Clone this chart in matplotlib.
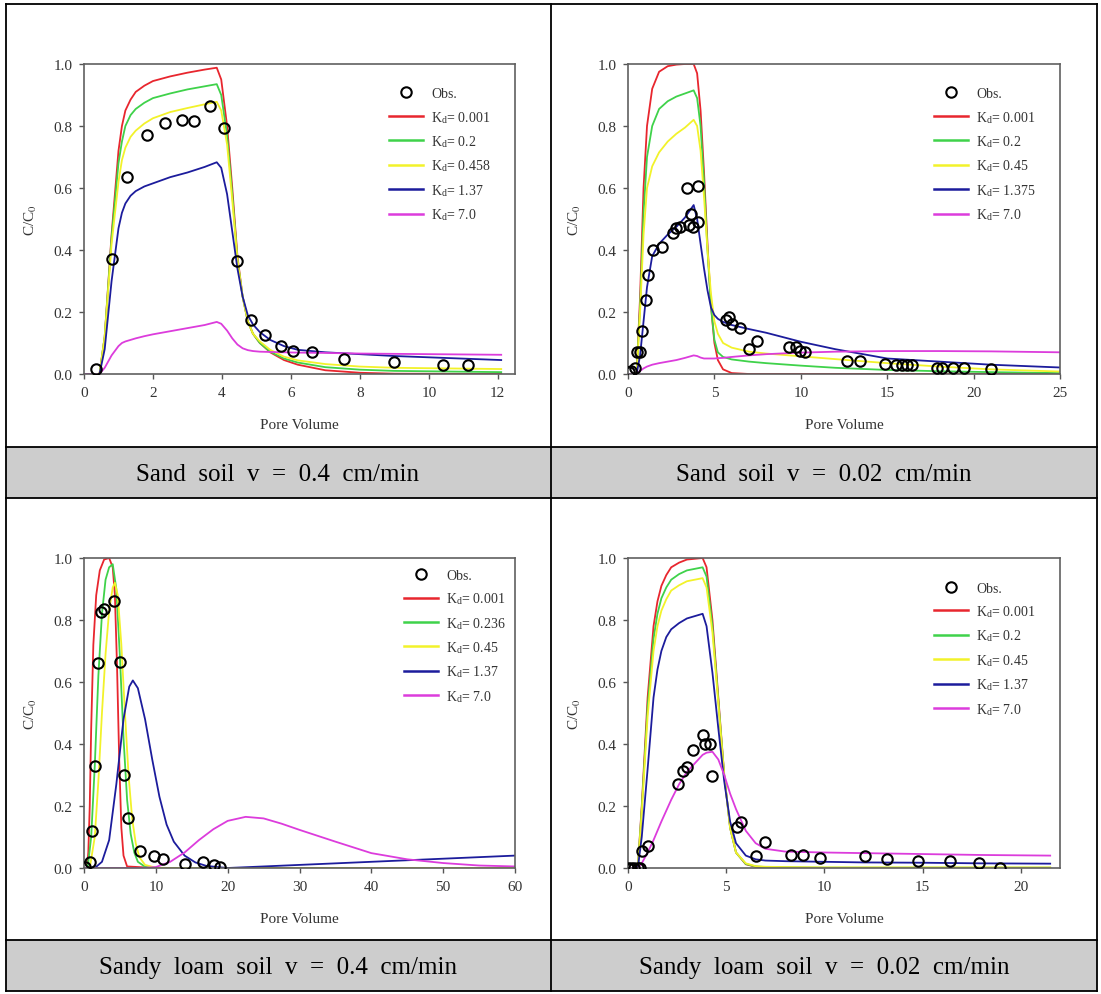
import numpy as np
import matplotlib
matplotlib.use("Agg")
import matplotlib.pyplot as plt
from matplotlib.lines import Line2D
from matplotlib.patches import Rectangle

plt.rcParams['font.family'] = ['Liberation Serif', 'DejaVu Serif']
plt.rcParams['mathtext.fontset'] = 'stix'

# ---------------- data ----------------
# Panel 1: Sand soil v = 0.4 cm/min
p1_x = [0, 0.45, 0.6, 0.8, 1.0, 1.1, 1.2, 1.35, 1.5, 1.75, 2.0, 2.5, 3.0, 3.5, 3.85, 3.98, 4.15,
        4.3, 4.45, 4.6, 4.75, 4.9, 5.1, 5.4, 5.8, 6.2, 7.0, 8.0, 9.0, 12.1]
p1_red = [0, 0, 0.12, 0.45, 0.72, 0.8, 0.85, 0.885, 0.91, 0.93, 0.945, 0.96, 0.972, 0.982, 0.988, 0.95,
          0.8, 0.6, 0.38, 0.25, 0.17, 0.13, 0.1, 0.07, 0.045, 0.03, 0.012, 0.004, 0.001, 0]
p1_green = [0, 0, 0.12, 0.44, 0.68, 0.75, 0.8, 0.835, 0.855, 0.875, 0.89, 0.905, 0.918, 0.928, 0.935, 0.9,
            0.77, 0.58, 0.37, 0.25, 0.17, 0.13, 0.1, 0.072, 0.05, 0.037, 0.022, 0.014, 0.01, 0.006]
p1_yellow = [0, 0, 0.12, 0.42, 0.62, 0.69, 0.73, 0.765, 0.785, 0.808, 0.825, 0.845, 0.858, 0.87, 0.878,
             0.85, 0.74, 0.56, 0.37, 0.25, 0.17, 0.13, 0.105, 0.078, 0.056, 0.044, 0.032, 0.024, 0.02, 0.016]
p1_blue = [0, 0, 0.08, 0.3, 0.47, 0.52, 0.55, 0.575, 0.59, 0.605, 0.615, 0.635, 0.65, 0.668, 0.683, 0.665,
           0.58, 0.46, 0.34, 0.25, 0.19, 0.16, 0.135, 0.11, 0.09, 0.078, 0.07, 0.064, 0.058, 0.045]
p1_magenta = [0, 0, 0.02, 0.06, 0.09, 0.1, 0.105, 0.11, 0.115, 0.122, 0.128, 0.138, 0.148, 0.158, 0.168,
              0.162, 0.14, 0.115, 0.095, 0.083, 0.077, 0.074, 0.072, 0.071, 0.07, 0.069, 0.068, 0.066,
              0.065, 0.062]
p1_obs_x = [0.35, 0.8, 1.25, 1.82, 2.35, 2.85, 3.2, 3.65, 4.05, 4.45, 4.85, 5.25, 5.7,
            6.05, 6.6, 7.55, 9.0, 10.4, 11.15]
p1_obs_y = [0.015, 0.37, 0.635, 0.77, 0.81, 0.82, 0.815, 0.865, 0.795, 0.365, 0.175, 0.125, 0.09,
            0.075, 0.07, 0.05, 0.038, 0.03, 0.028]
p1_kd = ['0.001', '0.2', '0.458', '1.37', '7.0']

# Panel 2: Sand soil v = 0.02 cm/min
p2_x = [0, 0.5, 0.7, 0.9, 1.1, 1.4, 1.8, 2.3, 2.8, 3.3, 3.8, 4.0, 4.2, 4.4, 4.6, 4.8,
        5.0, 5.2, 5.5, 6.0, 7.0, 8.0, 10.0, 12.0, 15.0, 18.0, 21.0, 25.0]
p2_red = [0, 0, 0.25, 0.6, 0.8, 0.92, 0.975, 0.993, 0.998, 1.0, 1.0, 0.97, 0.85, 0.65, 0.42, 0.22,
          0.1, 0.045, 0.015, 0.003, 0, 0, 0, 0, 0, 0, 0, 0]
p2_green = [0, 0, 0.22, 0.52, 0.7, 0.8, 0.855, 0.88, 0.895, 0.905, 0.915, 0.89, 0.8, 0.62, 0.4, 0.22,
            0.11, 0.07, 0.055, 0.047, 0.04, 0.035, 0.027, 0.02, 0.013, 0.009, 0.006, 0.003]
p2_yellow = [0, 0, 0.2, 0.45, 0.6, 0.67, 0.715, 0.75, 0.775, 0.795, 0.82, 0.8, 0.72, 0.57, 0.4, 0.26,
             0.17, 0.13, 0.1, 0.085, 0.072, 0.066, 0.057, 0.048, 0.035, 0.024, 0.015, 0.008]
p2_blue = [0, 0, 0.06, 0.17, 0.28, 0.38, 0.42, 0.45, 0.475, 0.505, 0.545, 0.5, 0.42, 0.34, 0.27, 0.215,
           0.19, 0.178, 0.168, 0.158, 0.145, 0.133, 0.104, 0.08, 0.05, 0.04, 0.03, 0.021]
p2_magenta = [0, 0, 0.01, 0.018, 0.024, 0.03, 0.035, 0.04, 0.045, 0.052, 0.06, 0.058, 0.053, 0.05,
              0.05, 0.05, 0.05, 0.051, 0.052, 0.055, 0.06, 0.064, 0.069, 0.072, 0.074, 0.074, 0.073, 0.07]
p2_obs_x = [0.05, 0.2, 0.4, 0.53, 0.67, 0.81, 1.02, 1.18, 1.43, 1.96, 2.6, 2.75, 3.0, 3.42, 3.52,
            3.63, 3.79, 4.03, 4.03, 5.66, 5.86, 6.03, 6.48, 6.98, 7.45, 9.29, 9.74, 9.94, 10.24,
            12.65, 13.4, 14.9, 15.5, 15.85, 16.15, 16.46, 17.9, 18.15, 18.8, 19.47, 21.0]
p2_obs_y = [0.005, 0.01, 0.02, 0.07, 0.07, 0.14, 0.24, 0.32, 0.4, 0.41, 0.455, 0.47, 0.475, 0.6, 0.48,
            0.515, 0.475, 0.605, 0.49, 0.175, 0.185, 0.16, 0.148, 0.08, 0.107, 0.086, 0.086, 0.075, 0.07,
            0.042, 0.042, 0.032, 0.029, 0.029, 0.029, 0.029, 0.02, 0.018, 0.018, 0.018, 0.015]
p2_kd = ['0.001', '0.2', '0.45', '1.375', '7.0']

# Panel 3: Sandy loam soil v = 0.4 cm/min
p3_red_x = [0, 0.4, 0.6, 0.8, 1.0, 1.3, 1.7, 2.2, 2.8, 3.5, 4.0, 4.3, 4.6, 4.9, 5.2, 5.5, 6.0, 10, 60]
p3_red_y = [0, 0, 0.05, 0.2, 0.45, 0.72, 0.88, 0.96, 0.995, 1.0, 0.97, 0.88, 0.65, 0.35, 0.13, 0.04, 0.005, 0, 0]
p3_green_x = [0, 0.5, 1.0, 1.5, 2.0, 2.5, 3.0, 3.5, 4.0, 4.5, 5.0, 5.5, 6.0, 6.5, 7.0, 7.5, 8.5, 10, 60]
p3_green_y = [0, 0, 0.1, 0.33, 0.62, 0.82, 0.93, 0.97, 0.98, 0.9, 0.68, 0.42, 0.22, 0.11, 0.05, 0.02, 0.004, 0, 0]
p3_yellow_x = [0, 0.8, 1.5, 2.0, 2.5, 3.0, 3.5, 4.0, 4.3, 4.7, 5.2, 5.7, 6.2, 6.7, 7.2, 7.7, 8.5, 10, 12, 60]
p3_yellow_y = [0, 0, 0.1, 0.28, 0.5, 0.69, 0.83, 0.905, 0.92, 0.88, 0.72, 0.5, 0.3, 0.16, 0.08, 0.035, 0.01,
               0.001, 0, 0]
p3_blue_x = [0, 1.5, 2.5, 3.5, 4.5, 5.5, 6.3, 6.8, 7.5, 8.5, 9.5, 10.5, 11.5, 12.5, 14, 15.5, 17, 19, 20,
             30, 40, 50, 60]
p3_blue_y = [0, 0, 0.02, 0.09, 0.27, 0.48, 0.585, 0.605, 0.58, 0.48, 0.35, 0.23, 0.14, 0.085, 0.04, 0.018,
             0.007, 0.002, 0.0, 0.01, 0.02, 0.03, 0.04]
p3_magenta_x = [0, 8, 10, 12, 14, 16, 18, 20, 22.5, 25, 27.5, 30, 35, 40, 45, 50, 55, 60]
p3_magenta_y = [0, 0, 0.003, 0.02, 0.05, 0.09, 0.125, 0.152, 0.165, 0.16, 0.143, 0.123, 0.085, 0.048,
                0.028, 0.016, 0.008, 0.005]
p3_obs_x = [0.15, 0.88, 1.12, 1.5, 2.0, 2.34, 2.82, 4.14, 5.0, 5.6, 6.08, 7.79, 9.68, 10.95, 14.0,
            16.55, 18.05, 18.9]
p3_obs_y = [0.003, 0.018, 0.12, 0.33, 0.66, 0.826, 0.834, 0.86, 0.665, 0.3, 0.16, 0.056, 0.038, 0.03,
            0.014, 0.019, 0.011, 0.003]
p3_kd = ['0.001', '0.236', '0.45', '1.37', '7.0']

# Panel 4: Sandy loam soil v = 0.02 cm/min
p4_x = [0, 0.5, 0.7, 1.0, 1.3, 1.5, 1.7, 1.95, 2.2, 2.6, 3.0, 3.8, 4.0, 4.3, 4.6, 4.9, 5.2, 5.5, 6.0,
        6.5, 7.0, 8.0, 10, 12, 15, 18, 21.5]
p4_red = [0, 0, 0.2, 0.55, 0.78, 0.86, 0.91, 0.945, 0.97, 0.985, 0.995, 1.0, 0.97, 0.8, 0.55, 0.3, 0.13,
          0.05, 0.012, 0.004, 0.002, 0.001, 0, 0, 0, 0, 0]
p4_green = [0, 0, 0.19, 0.52, 0.74, 0.82, 0.87, 0.905, 0.93, 0.948, 0.96, 0.97, 0.94, 0.78, 0.54, 0.3, 0.13,
            0.05, 0.013, 0.005, 0.003, 0.002, 0.001, 0.001, 0.001, 0.001, 0.001]
p4_yellow = [0, 0, 0.18, 0.49, 0.7, 0.78, 0.83, 0.867, 0.895, 0.912, 0.925, 0.935, 0.905, 0.76, 0.53, 0.3,
             0.13, 0.05, 0.015, 0.006, 0.004, 0.003, 0.002, 0.002, 0.002, 0.002, 0.002]
p4_blue = [0, 0, 0.1, 0.32, 0.55, 0.64, 0.7, 0.745, 0.77, 0.79, 0.805, 0.82, 0.78, 0.63, 0.45, 0.28, 0.15,
           0.08, 0.04, 0.028, 0.024, 0.022, 0.02, 0.018, 0.017, 0.015, 0.014]
p4_magenta = [0, 0, 0.015, 0.05, 0.09, 0.12, 0.15, 0.185, 0.22, 0.27, 0.31, 0.365, 0.372, 0.375, 0.35, 0.3,
              0.24, 0.19, 0.12, 0.08, 0.062, 0.053, 0.05, 0.048, 0.045, 0.042, 0.04]
p4_obs_x = [0, 0.14, 0.29, 0.5, 0.6, 0.71, 1.0, 2.55, 2.82, 3.0, 3.32, 3.8, 3.9, 4.16, 4.29, 5.54, 5.77,
            6.52, 6.96, 8.3, 8.89, 9.79, 12.05, 13.18, 14.75, 16.4, 17.86, 18.93]
p4_obs_y = [0, 0, 0, 0, 0, 0.054, 0.072, 0.27, 0.314, 0.325, 0.382, 0.43, 0.4, 0.4, 0.298, 0.133, 0.15,
            0.04, 0.083, 0.042, 0.042, 0.032, 0.04, 0.03, 0.024, 0.022, 0.016, 0.0]
p4_kd = ['0.001', '0.2', '0.45', '1.37', '7.0']

captions = ['Sand  soil  v  =  0.4  cm/min', 'Sand  soil  v  =  0.02  cm/min',
            'Sandy  loam  soil  v  =  0.4  cm/min', 'Sandy  loam  soil  v  =  0.02  cm/min']

colors = ['#e8262e', '#3fd24a', '#f2f22a', '#1c1c9c', '#dc3cdc']

W, H = 1101, 995
fig = plt.figure(figsize=(W / 100, H / 100), dpi=100)


def fx(px):
    return px / W


def fy(py):
    return 1 - py / H


def make_axes(l, t, r, b):
    return fig.add_axes([fx(l), fy(b), fx(r) - fx(l), fy(t) - fy(b)])


def draw_panel(ax, curves, obs_x, obs_y, kd, xmax, xticks, leg_anchor):
    for (cx, cy), c in zip(curves, colors):
        ax.plot(cx, cy, color=c, lw=1.3, zorder=2)
    ax.plot(obs_x, obs_y, ls='none', marker='o', ms=7.5, mfc='none', mec='black', mew=1.5, zorder=3)
    ax.set_xlim(0, xmax)
    ax.set_ylim(0, 1.0)
    ax.set_xticks(xticks)
    ax.set_yticks([0, 0.2, 0.4, 0.6, 0.8, 1.0])
    ax.set_yticklabels(['0.0', '0.2', '0.4', '0.6', '0.8', '1.0'])
    ax.tick_params(direction='out', length=3.5, width=1.0, colors='#555555', labelcolor='#333333',
                   labelsize=11, pad=5)
    for s in ax.spines.values():
        s.set_color('#606060')
        s.set_linewidth(1.2)
    ax.set_xlabel('Pore Volume', fontsize=11, color='#333333', labelpad=14)
    ax.set_ylabel('C/C$_0$', fontsize=11, color='#333333', labelpad=10)
    handles = [Line2D([], [], ls='none', marker='o', ms=7.5, mfc='none', mec='black', mew=1.5)]
    labels = ['Obs.']
    for c, k in zip(colors, kd):
        handles.append(Line2D([], [], color=c, lw=1.8))
        labels.append(r'K$_\mathregular{d}$= ' + k)
    ax.legend(handles, labels, loc='upper left', bbox_to_anchor=leg_anchor, frameon=False,
              fontsize=10, handlelength=2.45, handletextpad=0.58, labelspacing=0.62,
              borderpad=0, borderaxespad=0, labelcolor='#333333')


ax1 = make_axes(84, 65, 515, 375)
draw_panel(ax1, [(p1_x, p1_red), (p1_x, p1_green), (p1_x, p1_yellow), (p1_x, p1_blue), (p1_x, p1_magenta)],
           p1_obs_x, p1_obs_y, p1_kd, 12.5, [0, 2, 4, 6, 8, 10, 12], (0.708, 0.925))

ax2 = make_axes(628, 65, 1060, 375)
draw_panel(ax2, [(p2_x, p2_red), (p2_x, p2_green), (p2_x, p2_yellow), (p2_x, p2_blue), (p2_x, p2_magenta)],
           p2_obs_x, p2_obs_y, p2_kd, 25, [0, 5, 10, 15, 20, 25], (0.708, 0.925))

ax3 = make_axes(84, 559, 515, 869)
draw_panel(ax3, [(p3_red_x, p3_red_y), (p3_green_x, p3_green_y), (p3_yellow_x, p3_yellow_y),
                 (p3_blue_x, p3_blue_y), (p3_magenta_x, p3_magenta_y)],
           p3_obs_x, p3_obs_y, p3_kd, 60, [0, 10, 20, 30, 40, 50, 60], (0.742, 0.965))

ax4 = make_axes(628, 559, 1060, 869)
draw_panel(ax4, [(p4_x, p4_red), (p4_x, p4_green), (p4_x, p4_yellow), (p4_x, p4_blue), (p4_x, p4_magenta)],
           p4_obs_x, p4_obs_y, p4_kd, 22, [0, 5, 10, 15, 20], (0.708, 0.924))

# table frame with grey caption rows
for top, bot in [(448, 499), (941, 992)]:
    fig.add_artist(Rectangle((fx(6), fy(bot)), fx(1097) - fx(6), fy(top) - fy(bot),
                             transform=fig.transFigure, facecolor='#cdcdcd', edgecolor='none', zorder=0))
for py in [5, 448, 499, 941, 992]:
    fig.add_artist(Line2D([fx(6), fx(1097)], [fy(py), fy(py)], transform=fig.transFigure,
                          color='black', lw=1.3))
for px in [6, 551, 1097]:
    fig.add_artist(Line2D([fx(px), fx(px)], [fy(5), fy(992)], transform=fig.transFigure,
                          color='black', lw=1.3))

for txt, cx, cy in zip(captions, [278, 824, 278, 824], [475, 475, 968, 968]):
    fig.text(fx(cx), fy(cy), txt, ha='center', va='center', fontsize=18, color='black')

fig.savefig('out.png', dpi=100)
